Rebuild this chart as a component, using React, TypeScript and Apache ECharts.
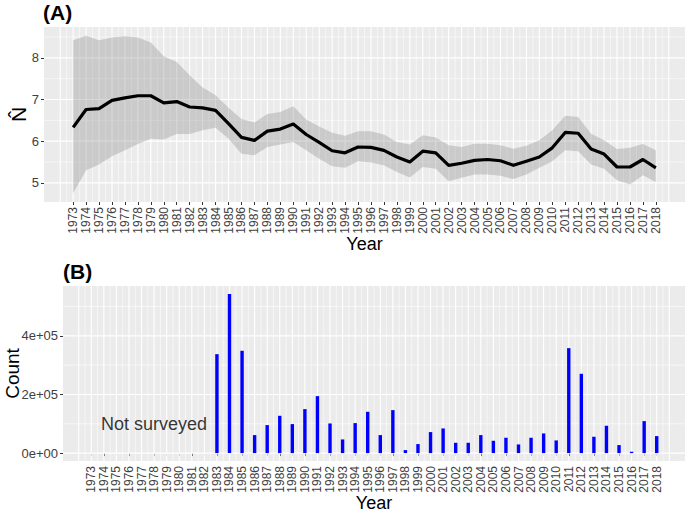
import React, { useEffect, useRef } from 'react';
import * as echarts from 'echarts';

const years = [
  1973, 1974, 1975, 1976, 1977, 1978, 1979, 1980, 1981, 1982,
  1983, 1984, 1985, 1986, 1987, 1988, 1989, 1990, 1991, 1992,
  1993, 1994, 1995, 1996, 1997, 1998, 1999, 2000, 2001, 2002,
  2003, 2004, 2005, 2006, 2007, 2008, 2009, 2010, 2011, 2012,
  2013, 2014, 2015, 2016, 2017, 2018,
];

const nHat = [
  6.33, 6.76, 6.78, 6.98, 7.04, 7.09, 7.09, 6.92, 6.95, 6.82,
  6.8, 6.74, 6.42, 6.09, 6.02, 6.24, 6.29, 6.41, 6.16, 5.97,
  5.77, 5.72, 5.86, 5.85, 5.78, 5.62, 5.5, 5.76, 5.72, 5.42,
  5.47, 5.54, 5.56, 5.53, 5.42, 5.52, 5.62, 5.84, 6.21, 6.19,
  5.81, 5.69, 5.38, 5.38, 5.56, 5.36,
];

const nUpper = [
  8.42, 8.53, 8.42, 8.49, 8.52, 8.49, 8.37, 8.04, 7.9, 7.58,
  7.29, 7.1, 6.8, 6.53, 6.45, 6.65, 6.7, 6.84, 6.52, 6.35,
  6.2, 6.13, 6.24, 6.24, 6.16, 5.98, 5.92, 6.14, 6.09, 5.9,
  5.86, 5.94, 5.94, 5.9, 5.82, 5.89, 6.02, 6.26, 6.61, 6.58,
  6.18, 6.02, 5.81, 5.84, 5.93, 5.78,
];

const nLower = [
  4.75, 5.3, 5.44, 5.64, 5.78, 5.93, 6.06, 6.04, 6.17, 6.17,
  6.26, 6.32, 6.06, 5.7, 5.66, 5.86, 5.92, 5.98, 5.78, 5.58,
  5.4, 5.36, 5.52, 5.49, 5.42, 5.26, 5.13, 5.38, 5.34, 5.04,
  5.12, 5.2, 5.2, 5.17, 5.09, 5.2, 5.36, 5.52, 5.78, 5.76,
  5.44, 5.34, 5.06, 4.96, 5.18, 5.02,
];

const counts = [
  null, null, null, null, null, null, null, null, null, null,
  337500, 543000, 349000, 61400, 95500, 127300, 98900, 150000, 194300, 101100,
  46600, 102300, 140900, 61400, 146600, 10200, 30700, 71600, 84100, 35200,
  35200, 61400, 42000, 52300, 29500, 52300, 67000, 43200, 358000, 270500,
  55700, 93200, 27300, 4500, 109100, 58000,
];

const gridYears = [
  1972, 1973, 1974, 1975, 1976, 1977, 1978, 1979, 1980, 1981,
  1982, 1983, 1984, 1985, 1986, 1987, 1988, 1989, 1990, 1991,
  1992, 1993, 1994, 1995, 1996, 1997, 1998, 1999, 2000, 2001,
  2002, 2003, 2004, 2005, 2006, 2007, 2008, 2009, 2010, 2011,
  2012, 2013, 2014, 2015, 2016, 2017, 2018, 2019,
];

const yTicksA = [5, 6, 7, 8];
const yMinorA = [5.5, 6.5, 7.5, 8.5];
const yTicksB = [0, 200000, 400000];
const yMinorB = [100000, 300000, 500000];

const noteYear = 1978;
const noteCount = 100000;
const noteText = 'Not surveyed';

const FONT = '"Liberation Sans", Arial, Helvetica, sans-serif';
const MAJOR_W = 1.1;
const MINOR_W = 0.55;
const BAR_W = 3.4;

function sci(v: number): string {
  const s = v.toExponential(0);
  const [m, e] = s.split('e');
  const sign = e[0] === '-' ? '-' : '+';
  const digits = e.replace(/[+-]/, '').padStart(2, '0');
  return m + 'e' + sign + digits;
}

function vGrid(gridIdx: number, refY: number) {
  const data: number[][] = [];
  gridYears.forEach((y, i) => {
    data.push([y, refY, MAJOR_W]);
    if (i < gridYears.length - 1) data.push([(y + gridYears[i + 1]) / 2, refY, MINOR_W]);
  });
  return {
    type: 'custom',
    xAxisIndex: gridIdx,
    yAxisIndex: gridIdx,
    silent: true,
    z: 1,
    data,
    renderItem: (params: any, api: any) => {
      const cs = params.coordSys;
      const p = api.coord([api.value(0), api.value(1)]);
      return {
        type: 'line',
        shape: { x1: p[0], y1: cs.y, x2: p[0], y2: cs.y + cs.height },
        style: { stroke: '#FFFFFF', lineWidth: api.value(2) },
      };
    },
  };
}

function hGrid(gridIdx: number, refX: number, major: number[], minor: number[]) {
  const data: number[][] = [
    ...major.map((v) => [refX, v, MAJOR_W]),
    ...minor.map((v) => [refX, v, MINOR_W]),
  ];
  return {
    type: 'custom',
    xAxisIndex: gridIdx,
    yAxisIndex: gridIdx,
    silent: true,
    z: 1,
    data,
    renderItem: (params: any, api: any) => {
      const cs = params.coordSys;
      const p = api.coord([api.value(0), api.value(1)]);
      return {
        type: 'line',
        shape: { x1: cs.x, y1: p[1], x2: cs.x + cs.width, y2: p[1] },
        style: { stroke: '#FFFFFF', lineWidth: api.value(2) },
      };
    },
  };
}

function xAxisCfg(gridIndex: number) {
  return {
    type: 'value',
    gridIndex,
    min: 1970.75,
    max: 2020.25,
    axisLine: { show: false },
    splitLine: { show: false },
    axisTick: { show: true, customValues: years, length: 3, lineStyle: { color: '#333333', width: 1 } },
    axisLabel: {
      customValues: years,
      rotate: 90,
      fontSize: 12,
      color: '#404040',
      margin: 5,
      fontFamily: FONT,
      hideOverlap: false,
      showMinLabel: true,
      showMaxLabel: true,
      formatter: (v: number) => String(v),
    },
    name: 'Year',
    nameLocation: 'middle',
    nameGap: 33,
    nameMoveOverlap: false,
    nameTextStyle: { fontSize: 18, color: '#000000', fontFamily: FONT },
  };
}

export default function App() {
  const ref = useRef<HTMLDivElement>(null);
  useEffect(() => {
    if (!ref.current) return;
    const chart = echarts.init(ref.current, null, { renderer: 'svg' });
    const option: any = {
      animation: false,
      backgroundColor: '#FFFFFF',
      textStyle: { fontFamily: FONT },
      title: [
        { text: '(A)', left: 43, top: 2, padding: 0, textStyle: { fontSize: 21, fontWeight: 'bold', color: '#000', fontFamily: FONT } },
        { text: '(B)', left: 63, top: 261, padding: 0, textStyle: { fontSize: 21, fontWeight: 'bold', color: '#000', fontFamily: FONT } },
      ],
      grid: [
        { left: 44, top: 27, width: 641, height: 175, show: true, backgroundColor: '#EBEBEB', borderWidth: 0, containLabel: false, outerBoundsMode: 'none' },
        { left: 63, top: 286, width: 622, height: 175, show: true, backgroundColor: '#EBEBEB', borderWidth: 0, containLabel: false, outerBoundsMode: 'none' },
      ],
      xAxis: [xAxisCfg(0), xAxisCfg(1)],
      yAxis: [
        {
          type: 'value',
          gridIndex: 0,
          min: 4.54,
          max: 8.74,
          axisLine: { show: false },
          splitLine: { show: false },
          axisTick: { show: true, customValues: yTicksA, length: 3, lineStyle: { color: '#333333', width: 1 } },
          axisLabel: { customValues: yTicksA, fontSize: 13, color: '#404040', margin: 5, fontFamily: FONT, formatter: (v: number) => String(v) },
          name: 'N\u0302',
          nameLocation: 'middle',
          nameRotate: 90,
          nameGap: 15,
          nameMoveOverlap: false,
          nameTextStyle: { fontSize: 21, color: '#000000', fontFamily: FONT },
        },
        {
          type: 'value',
          gridIndex: 1,
          min: -27000,
          max: 570000,
          axisLine: { show: false },
          splitLine: { show: false },
          axisTick: { show: true, customValues: yTicksB, length: 3, lineStyle: { color: '#333333', width: 1 } },
          axisLabel: { customValues: yTicksB, fontSize: 13, color: '#404040', margin: 5, fontFamily: FONT, formatter: (v: number) => sci(v) },
          name: 'Count',
          nameLocation: 'middle',
          nameRotate: 90,
          nameGap: 41,
          nameMoveOverlap: false,
          nameTextStyle: { fontSize: 19, color: '#000000', fontFamily: FONT },
        },
      ],
      series: [
        vGrid(0, 6),
        hGrid(0, 1990, yTicksA, yMinorA),
        vGrid(1, 0),
        hGrid(1, 1990, yTicksB, yMinorB),
        {
          type: 'custom',
          xAxisIndex: 0,
          yAxisIndex: 0,
          silent: true,
          z: 2,
          data: years.map((y, i) => [y, nLower[i], nUpper[i]]),
          renderItem: (params: any, api: any) => {
            if (params.dataIndex !== 0) return null;
            const up = years.map((y, i) => api.coord([y, nUpper[i]]));
            const lo = years.map((y, i) => api.coord([y, nLower[i]])).reverse();
            return {
              type: 'polygon',
              shape: { points: up.concat(lo) },
              style: { fill: 'rgba(127,127,127,0.3)', stroke: 'none' },
            };
          },
        },
        {
          type: 'line',
          xAxisIndex: 0,
          yAxisIndex: 0,
          symbol: 'none',
          silent: true,
          z: 3,
          lineStyle: { color: '#000000', width: 3.2, join: 'round', cap: 'butt' },
          data: years.map((y, i) => [y, nHat[i]]),
        },
        {
          type: 'custom',
          xAxisIndex: 1,
          yAxisIndex: 1,
          silent: true,
          z: 3,
          data: years.map((y, i) => [y, counts[i]]),
          renderItem: (params: any, api: any) => {
            const v = api.value(1);
            if (v == null || isNaN(v)) return null;
            const base = api.coord([api.value(0), 0]);
            const top = api.coord([api.value(0), v]);
            return {
              type: 'rect',
              shape: { x: base[0] - BAR_W / 2, y: top[1], width: BAR_W, height: base[1] - top[1] },
              style: { fill: '#0000FF' },
            };
          },
        },
        {
          type: 'scatter',
          xAxisIndex: 1,
          yAxisIndex: 1,
          symbolSize: 1,
          silent: true,
          z: 4,
          itemStyle: { color: 'rgba(0,0,0,0)' },
          label: { show: true, position: 'inside', formatter: noteText, fontSize: 18, color: '#000000', fontFamily: FONT },
          data: [[noteYear, noteCount]],
        },
      ],
    };
    chart.setOption(option);
    return () => chart.dispose();
  }, []);
  return (
    <div
      ref={ref}
      style={{ position: 'absolute', left: 0, top: 0, width: 685, height: 516 }}
    />
  );
}
